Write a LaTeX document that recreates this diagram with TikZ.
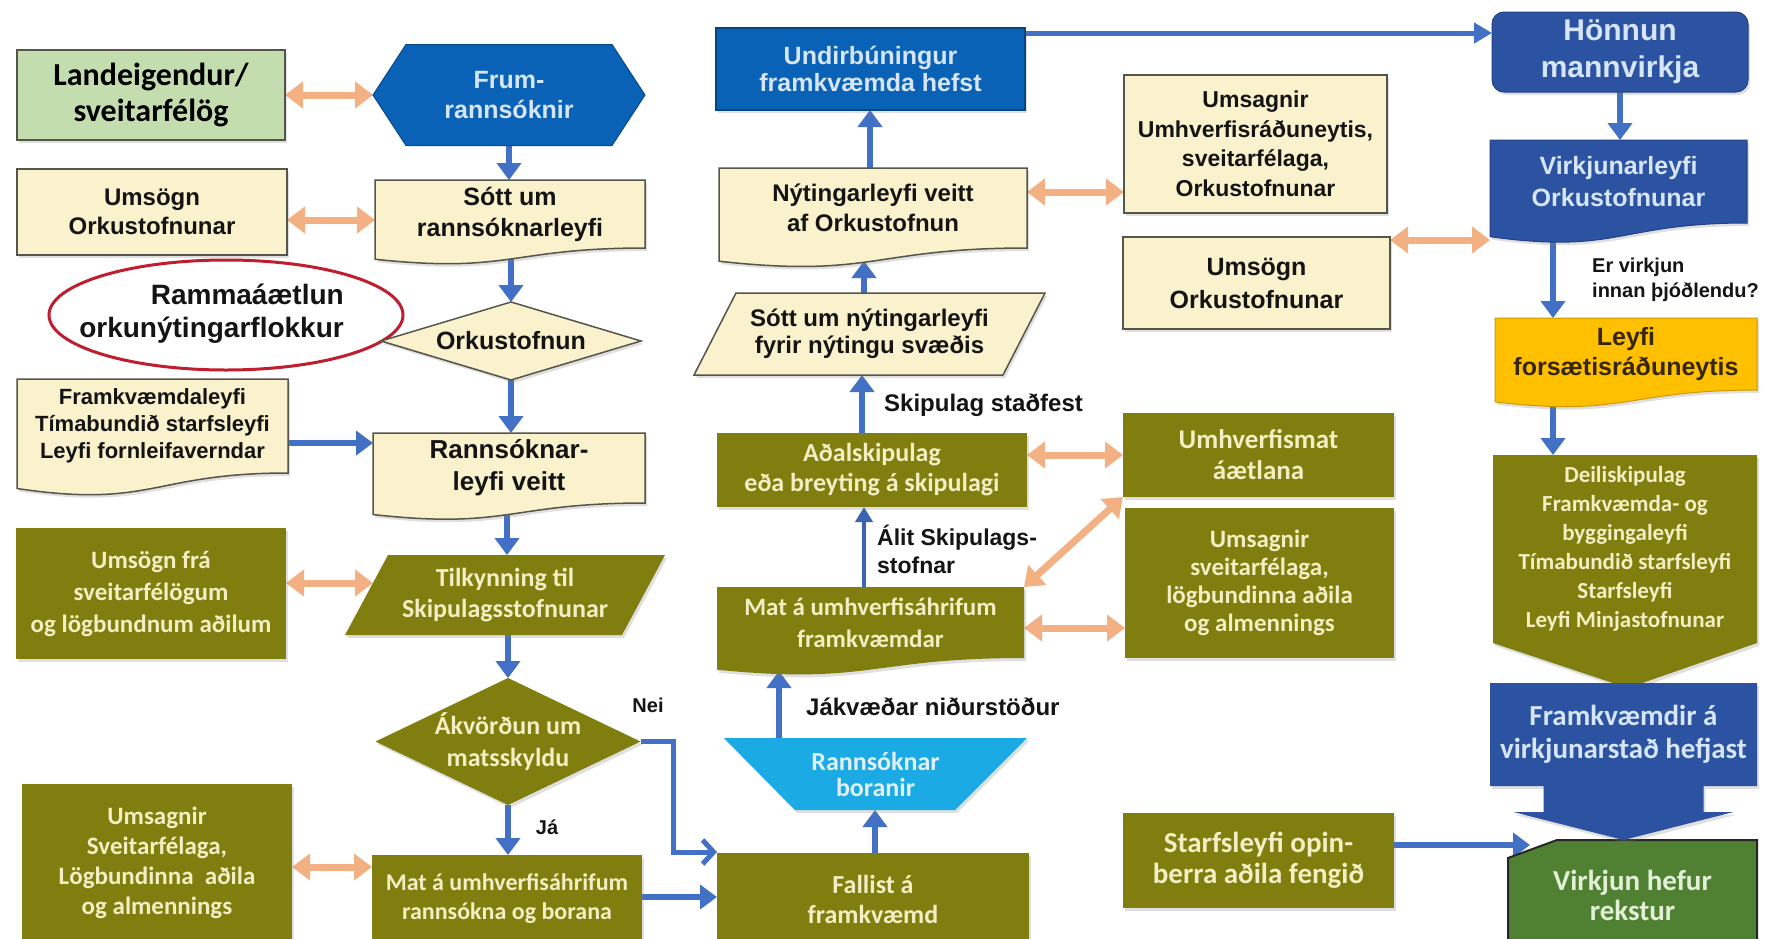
\documentclass[tikz,border=0pt]{standalone}
\usepackage{fontspec}
\setmainfont{Liberation Sans}
\newfontfamily\carl{Carlito}
\usetikzlibrary{arrows.meta,calc,shadows}
\definecolor{cOlive}{RGB}{127,126,14}
\definecolor{cOliveTxt}{RGB}{243,238,195}
\definecolor{cBeige}{RGB}{250,241,205}
\definecolor{cBeigeLine}{RGB}{85,85,75}
\definecolor{cLGreen}{RGB}{196,221,174}
\definecolor{cBlue}{RGB}{10,98,182}
\definecolor{cBlueTxt}{RGB}{214,230,248}
\definecolor{cDBlue}{RGB}{44,82,162}
\definecolor{cSky}{RGB}{28,170,228}
\definecolor{cSkyTxt}{RGB}{225,240,250}
\definecolor{cGold}{RGB}{255,192,0}
\definecolor{cGoldTxt}{RGB}{55,38,5}
\definecolor{cGreen}{RGB}{80,128,50}
\definecolor{cGreenTxt}{RGB}{225,240,215}
\definecolor{cArrow}{RGB}{66,112,196}
\definecolor{cOrange}{RGB}{243,176,130}
\definecolor{cRed}{RGB}{190,30,45}
\definecolor{cTxt}{RGB}{20,20,20}
\newcommand\fs[2]{\fontsize{#1}{#2}\selectfont}
\newcommand\rectS[2]{\path[#2] (#1.north west) rectangle (#1.south east);}
\newcommand\docS[2]{\path[#2] (#1.north west) -- (#1.north east) -- (#1.south east) .. controls (#1.south) and ($(#1.south)!-0.38!(#1.north)$) .. ($(#1.south west)!-0.165!(#1.north west)$) -- cycle;}
\newcommand\paraS[3]{\path[#3] ($(#1.north west)+(#2,0)$) -- (#1.north east) -- ($(#1.south east)+(-#2,0)$) -- (#1.south west) -- cycle;}
\newcommand\hexS[3]{\path[#3] ($(#1.north west)+(#2,0)$) -- ($(#1.north east)+(-#2,0)$) -- (#1.east) -- ($(#1.south east)+(-#2,0)$) -- ($(#1.south west)+(#2,0)$) -- (#1.west) -- cycle;}
\newcommand\diaS[2]{\path[#2] (#1.north) -- (#1.east) -- (#1.south) -- (#1.west) -- cycle;}
\pgfdeclarelayer{bg}
\pgfdeclarelayer{arrows}
\pgfdeclarelayer{shapes}
\pgfsetlayers{bg,arrows,shapes,main}
\begin{document}
\begin{tikzpicture}[x=1pt,y=-1pt,
  tn/.style={inner sep=0pt,outer sep=0pt,align=center},
  shadowed/.style={drop shadow={shadow xshift=2pt,shadow yshift=-3pt,opacity=0.25}},
  beigeS/.style={fill=cBeige,draw=cBeigeLine,line width=1.5pt,shadowed},
  oliveS/.style={fill=cOlive,shadowed},
  ontxt/.style={text=cOliveTxt},
  barrow/.style={draw=cArrow,line width=6pt,-{Triangle[width=24pt,length=17pt]}},
  thinarrow/.style={draw=cArrow!90!black,line width=4pt,-{Triangle[width=17pt,length=15pt]}},
  toparrow/.style={draw=cArrow,line width=5pt,-{Triangle[width=20pt,length=18pt]}},
  nei/.style={draw=cArrow,line width=5pt,line join=miter,-{Straight Barb[width=24pt,length=11pt]}},
  oarrow/.style={draw=cOrange,line width=7pt,{Triangle[width=26pt,length=18pt]}-{Triangle[width=26pt,length=18pt]}},
  lbl/.style={inner sep=0pt,text=cTxt,font=\bfseries\fs{24}{28}}]
\useasboundingbox (0,0) rectangle (1765,938);
\begin{pgfonlayer}{bg}
\fill[white] (0,0) rectangle (1765,938);
\end{pgfonlayer}
% ---------- nodes (text) ----------
\node[tn,minimum width=268,minimum height=90,text=black,font=\carl\bfseries\fs{32}{36}] (land) at (151,95) {Landeigendur/\\sveitarfélög};
\node[tn,minimum width=272,minimum height=101,text=cBlueTxt,font=\bfseries\fs{25}{30}] (frum) at (509,95) {Frum-\\rannsóknir};
\node[tn,minimum width=270,minimum height=86,text=cTxt,font=\bfseries\fs{24}{29}] (umsL) at (152,212) {Umsögn\\Orkustofnunar};
\node[tn,minimum width=270,minimum height=68,text=cTxt,font=\bfseries\fs{25}{31}] (sott) at (510,214) {Sótt um\\rannsóknarleyfi};
\node[inner sep=0pt,align=right,anchor=east,text=cTxt,font=\bfseries\fs{28}{33}] (ramma) at (344,314) {Rammaáætlun\\orkunýtingarflokkur};
\node[tn,minimum width=260,minimum height=78,text=cTxt,font=\bfseries\fs{25}{30}] (orku) at (511,341) {Orkustofnun};
\node[tn,minimum width=271,minimum height=94,text=cTxt,font=\bfseries\fs{22}{27}] (fram) at (152.5,426) {Framkvæmdaleyfi\\Tímabundið starfsleyfi\\Leyfi fornleifaverndar};
\node[tn,minimum width=272,minimum height=70,text=cTxt,font=\bfseries\fs{26}{32}] (rann) at (509,468) {Rannsóknar-\\leyfi veitt};
\node[tn,ontxt,minimum width=270,minimum height=131,font=\carl\bfseries\fs{25}{32}] (umsF) at (151,593.5) {Umsögn frá\\sveitarfélögum\\og lögbundnum aðilum};
\node[tn,ontxt,minimum width=320,minimum height=80,font=\carl\bfseries\fs{26}{31}] (tilk) at (505,595) {Tilkynning til\\Skipulagsstofnunar};
\node[tn,ontxt,minimum width=265,minimum height=127,font=\carl\bfseries\fs{26}{32}] (akv) at (508,741.5) {Ákvörðun um\\matsskyldu};
\node[tn,ontxt,minimum width=270,minimum height=158,font=\carl\bfseries\fs{25}{30}] (umsS) at (157,863) {Umsagnir\\Sveitarfélaga,\\Lögbundinna\ \ aðila\\og almennings};
\node[tn,ontxt,minimum width=270,minimum height=88,font=\carl\bfseries\fs{24}{29}] (matR) at (507,899) {Mat á umhverfisáhrifum\\rannsókna og borana};
\node[tn,minimum width=309,minimum height=82,text=cBlueTxt,font=\bfseries\fs{25}{27}] (undir) at (870.5,69) {Undirbúningur\\framkvæmda hefst};
\node[tn,minimum width=308,minimum height=80,text=cTxt,font=\bfseries\fs{24}{30}] (nyt) at (873,208) {Nýtingarleyfi veitt\\af Orkustofnun};
\node[tn,minimum width=351,minimum height=82,text=cTxt,font=\bfseries\fs{24}{27}] (sottN) at (869.5,334) {Sótt um nýtingarleyfi\\fyrir nýtingu svæðis};
\node[tn,ontxt,minimum width=310,minimum height=74,font=\carl\bfseries\fs{26}{30}] (adal) at (872,470) {Aðalskipulag\\eða breyting á skipulagi};
\node[tn,ontxt,minimum width=307,minimum height=71,font=\carl\bfseries\fs{25}{32}] (matF) at (870.5,622.5) {Mat á umhverfisáhrifum\\framkvæmdar};
\node[tn,minimum width=303,minimum height=72,text=cSkyTxt,font=\carl\bfseries\fs{26}{26}] (bor) at (875.5,774) {Rannsóknar\\boranir};
\node[tn,ontxt,minimum width=312,minimum height=92,font=\carl\bfseries\fs{26}{30}] (fall) at (873,899) {Fallist á\\framkvæmd};
\node[tn,minimum width=263,minimum height=138,text=cTxt,font=\bfseries\fs{23}{29.5}] (umsU) at (1255.5,144) {Umsagnir\\Umhverfisráðuneytis,\\sveitarfélaga,\\Orkustofnunar};
\node[tn,minimum width=267,minimum height=92,text=cTxt,font=\bfseries\fs{25}{33}] (umsR) at (1256.5,283) {Umsögn\\Orkustofnunar};
\node[tn,ontxt,minimum width=271,minimum height=84,font=\carl\bfseries\fs{27}{31}] (umhv) at (1258.5,455) {Umhverfismat\\áætlana};
\node[tn,ontxt,minimum width=269,minimum height=150,font=\carl\bfseries\fs{25}{28}] (umsV) at (1259.5,583) {Umsagnir\\sveitarfélaga,\\lögbundinna aðila\\og almennings};
\node[tn,ontxt,minimum width=271,minimum height=95,font=\carl\bfseries\fs{29}{31}] (starf) at (1258.5,860.5) {Starfsleyfi opin-\\berra aðila fengið};
\node[tn,minimum width=256,minimum height=80,text=cBlueTxt,font=\bfseries\fs{30}{37}] (honn) at (1620,52) {Hönnun\\mannvirkja};
\node[tn,minimum width=257,minimum height=83,text=cBlueTxt,font=\bfseries\fs{25}{32}] (virk) at (1618.5,181.5) {Virkjunarleyfi\\Orkustofnunar};
\node[tn,minimum width=262,minimum height=72,text=cGoldTxt,font=\bfseries\fs{25}{30}] (leyfi) at (1626,354) {Leyfi\\forsætisráðuneytis};
\node[tn,ontxt,minimum width=264,minimum height=188,font=\carl\bfseries\fs{23}{29}] (deil) at (1625,549) {Deiliskipulag\\Framkvæmda- og\\byggingaleyfi\\Tímabundið starfsleyfi\\Starfsleyfi\\Leyfi Minjastofnunar};
\node[tn,minimum width=267,minimum height=103,text=cBlueTxt,font=\carl\bfseries\fs{29}{33}] (frmk) at (1623.5,734.5) {Framkvæmdir á\\virkjunarstað hefjast};
\node[tn,minimum width=249,minimum height=110,text=cGreenTxt,font=\carl\bfseries\fs{29}{30}] (virkH) at (1632.5,895) {Virkjun hefur\\rekstur};
% labels
\node[lbl,anchor=west] (lSk) at (884,405) {Skipulag staðfest};
\node[lbl,anchor=west,align=left,font=\bfseries\fs{23}{28}] (lAl) at (877,549) {Álit Skipulags-\\stofnar};
\node[lbl,anchor=west] (lJak) at (806,707) {Jákvæðar niðurstöður};
\node[lbl,anchor=west,align=left,font=\bfseries\fs{20}{25}] (lEr) at (1592,280) {Er virkjun\\innan þjóðlendu?};
\node[lbl,font=\bfseries\fs{20}{24}] (lNei) at (648,705) {Nei};
\node[lbl,font=\bfseries\fs{20}{24}] (lJa) at (547,827) {Já};
% helper coordinates
\coordinate (Y33) at (0,33);
\coordinate (Y220) at (0,220);
\coordinate (Y240) at (0,240);
\coordinate (Y192) at (0,192);
\coordinate (Y443) at (0,443);
\coordinate (Y455) at (0,455);
\coordinate (Y583) at (0,583);
\coordinate (Y628) at (0,628);
\coordinate (Y845) at (0,845);
\coordinate (Y852) at (0,852);
\coordinate (Y867) at (0,867);
\coordinate (Y897) at (0,897);
\coordinate (X507) at (507,0);
\coordinate (X511) at (511,0);
\coordinate (X673) at (673,0);
\coordinate (X779) at (779,0);
\coordinate (X862) at (862,0);
\coordinate (X864) at (864,0);
\coordinate (X870) at (870,0);
\coordinate (X875) at (875,0);
\coordinate (X1553) at (1553,0);
\coordinate (X1620) at (1620,0);
% ---------- shapes ----------
\begin{pgfonlayer}{shapes}
\rectS{land}{fill=cLGreen,draw=cBeigeLine,line width=1.5pt,shadowed}
\hexS{frum}{33}{fill=cBlue,draw=cBlue!75!black,line width=1pt}
\rectS{umsL}{beigeS}
\docS{sott}{beigeS}
\draw[cRed,line width=3pt,fill=white] (226,315) ellipse [x radius=177pt,y radius=55pt];
\diaS{orku}{beigeS}
\docS{fram}{beigeS}
\docS{rann}{beigeS}
\rectS{umsF}{oliveS}
\paraS{tilk}{43}{oliveS}
\diaS{akv}{oliveS}
\rectS{umsS}{oliveS}
\rectS{matR}{oliveS}
\rectS{undir}{fill=cBlue,draw=cBlue!70!black,line width=1.5pt,shadowed}
\docS{nyt}{beigeS}
\paraS{sottN}{42}{beigeS}
\rectS{adal}{oliveS}
\docS{matF}{oliveS}
\path[fill=cSky,shadowed] (bor.north west) -- (bor.north east) -- ($(bor.south east)+(-72,0)$) -- ($(bor.south west)+(71,0)$) -- cycle;
\rectS{fall}{oliveS}
\rectS{umsU}{beigeS}
\rectS{umsR}{beigeS}
\rectS{umhv}{oliveS}
\rectS{umsV}{oliveS}
\rectS{starf}{oliveS}
\path[fill=cDBlue,draw=cDBlue!80!black,line width=1pt,rounded corners=12pt,shadowed] (honn.north west) rectangle (honn.south east);
\docS{virk}{fill=cDBlue,draw=cDBlue!80!black,line width=1pt,shadowed}
\docS{leyfi}{fill=cGold,draw=cGold!80!black,line width=1pt,shadowed}
\path[oliveS] (deil.north west) -- (deil.north east) -- (deil.south east) -- ($(deil.south)+(3,45)$) -- (deil.south west) -- cycle;
\path[fill=cGreen,draw=black!85,line width=2pt] ($(virkH.north west)+(49,0)$) -- (virkH.north east) -- (virkH.south east) -- (virkH.south west) -- ($(virkH.north west)+(0,18)$) -- cycle;
\path[fill=cDBlue,shadowed] (frmk.north west) -- (frmk.north east) -- (frmk.south east) -- ($(frmk.south)+(80,0)$) -- ($(frmk.south)+(80,26)$) -- ($(frmk.south)+(110,26)$) -- ($(frmk.south)+(0,54)$) -- ($(frmk.south)+(-110,26)$) -- ($(frmk.south)+(-80,26)$) -- ($(frmk.south)+(-80,0)$) -- (frmk.south west) -- cycle;
\end{pgfonlayer}
% ---------- connectors ----------
\begin{pgfonlayer}{arrows}
\draw[oarrow] (land.east) -- (frum.west);
\draw[barrow] (frum.south) -- (frum.south |- sott.north);
\draw[oarrow] (umsL.east |- Y220) -- (sott.west |- Y220);
\draw[barrow] (X511 |- sott.south) -- (orku.north);
\draw[barrow] (orku.south) -- (X511 |- rann.north);
\draw[barrow] (fram.east |- Y443) -- (rann.west |- Y443);
\draw[barrow] (X507 |- rann.south) -- (X507 |- tilk.north);
\draw[oarrow] (umsF.east |- Y583) -- ($(tilk.west |- Y583)+(28,0)$);
\draw[barrow] (akv.north |- tilk.south) -- (akv.north);
\draw[barrow] (akv.south) -- (akv.south |- matR.north);
\draw[nei] (akv.east) -- (X673 |- akv.east) -- (X673 |- Y852) -- (fall.west |- Y852);
\draw[barrow] (matR.east |- Y897) -- (fall.west |- Y897);
\draw[oarrow] (umsS.east |- Y867) -- (matR.west |- Y867);
\draw[barrow] (X875 |- fall.north) -- (X875 |- bor.south);
\draw[barrow] (X779 |- bor.north) -- ($(X779 |- matF.south)+(0,13)$);
\draw[thinarrow] (X864 |- matF.north) -- (X864 |- adal.south);
\draw[barrow] (X862 |- adal.north) -- (X862 |- sottN.south);
\draw[barrow] (X864 |- sottN.north) -- ($(X864 |- nyt.south)+(0,13)$);
\draw[barrow] (X870 |- nyt.north) -- (X870 |- undir.south);
\draw[oarrow] (nyt.east |- Y192) -- (umsU.west |- Y192);
\draw[oarrow] (umsR.east |- Y240) -- (virk.west |- Y240);
\draw[oarrow] (adal.east |- Y455) -- (umhv.west |- Y455);
\draw[oarrow] (matF.north east) -- (umhv.south west);
\draw[oarrow] (matF.east |- Y628) -- (umsV.west |- Y628);
\draw[toparrow] (undir.east |- Y33) -- (honn.west |- Y33);
\draw[barrow] (X1620 |- honn.south) -- (X1620 |- virk.north);
\draw[barrow] (X1553 |- virk.south) -- (X1553 |- leyfi.north);
\draw[barrow] (X1553 |- leyfi.south) -- (X1553 |- deil.north);
\draw[barrow] (starf.east |- Y845) -- ($(virkH.north west)+(22,5)$);
\end{pgfonlayer}
\end{tikzpicture}
\end{document}
